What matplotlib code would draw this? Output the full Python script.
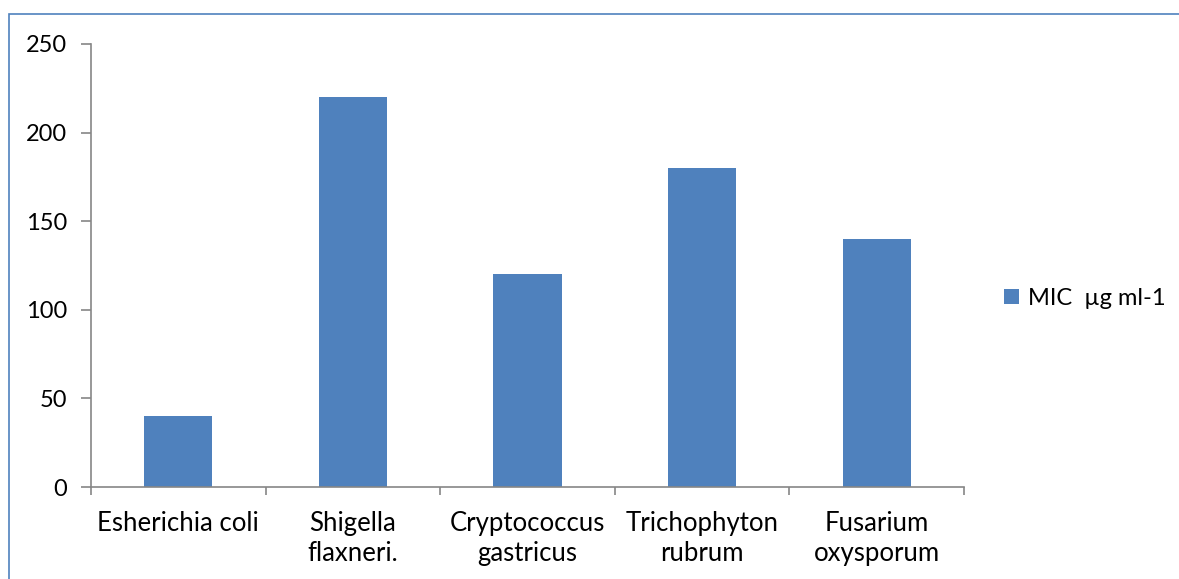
import matplotlib.pyplot as plt
from matplotlib.patches import Rectangle

categories = ["Esherichia coli", "Shigella\nflaxneri.", "Cryptococcus\ngastricus",
              "Trichophyton\nrubrum", "Fusarium\noxysporum"]
mic_values = [40, 220, 120, 180, 140]
y_ticks = [0, 50, 100, 150, 200, 250]
series_name = "MIC  µg ml-1"

plt.rcParams['font.family'] = ['Lato', 'DejaVu Sans']

W, H = 1179, 579
fig = plt.figure(figsize=(W / 100, H / 100), dpi=100, facecolor='white')

# chart-area border (thin blue frame, runs off right/bottom edges)
fig.patches.append(Rectangle((9 / W, -0.05), 1.1, (H - 14) / H + 0.05,
                             transform=fig.transFigure, fill=False,
                             edgecolor='#4F81BD', linewidth=1.2))

ax = fig.add_axes([91 / W, 1 - 487 / H, (964 - 91) / W, (487 - 44) / H])
x = range(len(categories))
ax.bar(x, mic_values, width=0.39, color='#4F81BD', label=series_name, zorder=2)

ax.set_xlim(-0.5, len(categories) - 0.5)
ax.set_ylim(0, 250)
ax.set_yticks(y_ticks)
ax.set_yticklabels([str(v) for v in y_ticks], fontsize=17)

ax.set_xticks([i - 0.5 for i in range(len(categories) + 1)], minor=False)
ax.set_xticklabels([])
ax.set_xticks(list(x), minor=True)
ax.set_xticklabels(categories, minor=True, fontsize=18.5, linespacing=1.25, va='top')
ax.tick_params(axis='x', which='minor', length=0, pad=17)
ax.tick_params(axis='x', which='major', length=6, width=1.2, color='#868686', direction='out')
ax.tick_params(axis='y', length=7, width=1.2, color='#868686', direction='out', pad=10)

for side in ['top', 'right']:
    ax.spines[side].set_visible(False)
for side in ['left', 'bottom']:
    ax.spines[side].set_color('#868686')
    ax.spines[side].set_linewidth(1.2)

ax.legend(loc='center left', bbox_to_anchor=(1.022, 0.425), frameon=False, fontsize=17,
          handlelength=0.6, handleheight=0.6, handletextpad=0.4)

fig.savefig('out.png', dpi=100, facecolor='white')
